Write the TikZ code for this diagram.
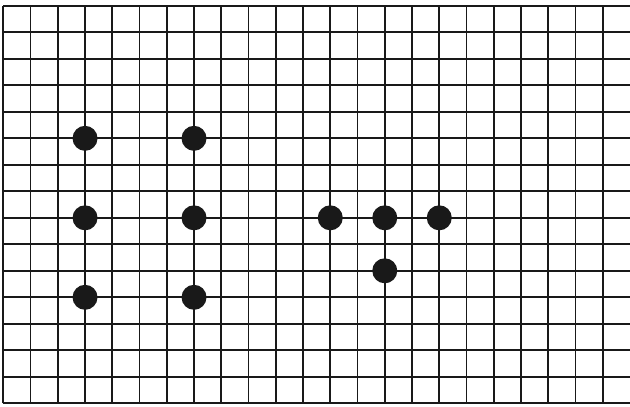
\documentclass[tikz,border=0pt]{standalone}
\usepackage{tikz}
\usetikzlibrary{positioning}

\tikzset{
  gridline/.style={line width=1pt, color=black!90},
  stone/.style={circle, fill=black!90, minimum size=0.5cm, inner sep=0pt}
}

\begin{document}
\begin{tikzpicture}[x=0.545cm, y=0.53cm]
        % Frame of the page (margins)
        \useasboundingbox (-0.121,-0.102) rectangle (23.0,15.22);
        \fill[white] (-0.121,-0.102) rectangle (23.0,15.22);

        % Grid
        \foreach \i in {0,...,22}
            \draw[gridline] (\i,0) -- (\i,15);
        \foreach \j in {0,...,15}
            \draw[gridline] (0,\j) -- (23.0,\j);

        % Left pattern
        \node[stone] (a1) at (3,10) {};
        \node[stone] (a2) at (7,10) {};
        \node[stone] (b1) at (3,7) {};
        \node[stone] (b2) at (7,7) {};
        \node[stone] (c1) at (3,4) {};
        \node[stone] (c2) at (7,4) {};

        % Right pattern
        \node[stone] (r1) at (12,7) {};
        \node[stone] (r2) at (14,7) {};
        \node[stone] (r3) at (16,7) {};
        \node[stone] (r4) at (14,5) {};
    \end{tikzpicture}
\end{document}
